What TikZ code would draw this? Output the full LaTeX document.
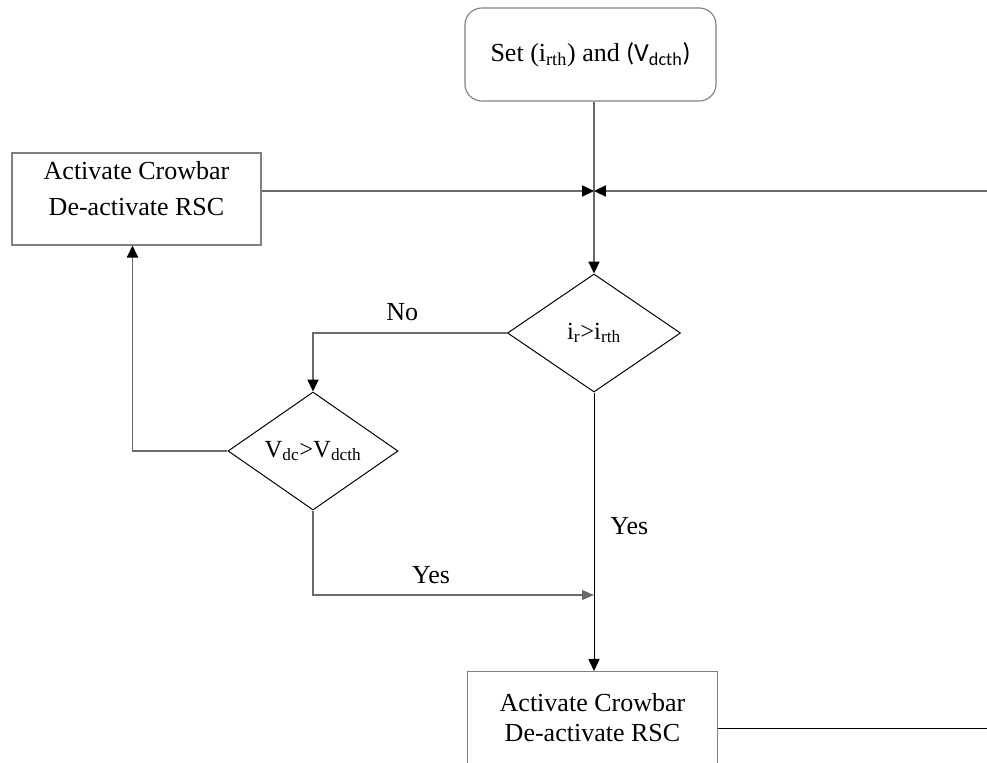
\documentclass[tikz,border=0pt]{standalone}
\usepackage{fontspec}
\setmainfont{Liberation Serif}
\newfontfamily\carlitofont{Carlito}
\usepackage{xcolor}
\usetikzlibrary{shapes.geometric,arrows.meta}
\definecolor{lineGray}{RGB}{105,105,105}
\definecolor{boxGray}{RGB}{128,128,128}

\begin{document}
\begin{tikzpicture}[x=0.025cm, y=-0.025cm, font=\fontsize{18.5}{21.5}\selectfont]
    % Define styles
    \tikzstyle{process} = [rectangle, draw=boxGray, line width=0.8pt, text centered, minimum width=6.25cm, minimum height=2.3cm, align=center]
    \tikzstyle{decision} = [diamond, draw=black, line width=0.7pt, inner sep=0pt, text centered, font=\fontsize{17.5}{21}\selectfont]
    \tikzstyle{arrow} = [draw=lineGray, line width=0.8pt, -{Triangle[length=8.5pt,width=8pt,color=black]}]
    \tikzstyle{grayarrow} = [draw=lineGray, line width=0.8pt, -{Triangle[length=8.5pt,width=7pt]}]
    \tikzstyle{line} = [draw=lineGray, line width=0.8pt]

    \path[use as bounding box, clip] (0,0) rectangle (987,763);

    % Boxes
    \node [process, rounded corners=12pt, minimum width=6.275cm, minimum height=2.325cm] (set) at (590.5,54.5) {Set (i\textsubscript{rth}) and {\carlitofont(V\textsubscript{dcth})}};
    \node [process, minimum width=6.225cm] (act1) at (136.5,199) {Activate Crowbar\\[4pt]De-activate RSC\\[-6pt]};
    \node [process] (act2) at (592.5,717.5) {Activate Crowbar\\De-activate RSC};

    % Decisions
    \node [decision, minimum width=4.325cm, minimum height=2.95cm] (d1) at (594,333) {i\textsubscript{r}>i\textsubscript{rth}};
    \node [decision, minimum width=4.25cm, minimum height=2.95cm] (d2) at (313,451) {V\textsubscript{dc}>V\textsubscript{dcth}};

    % Junction and free ends
    \coordinate (jn) at (594,191);
    \coordinate (rin) at (987,191);
    \coordinate (rout) at (987,728);
    \coordinate (merge) at (594,595);

    % Arrows
    \draw [line] (set.south -| jn) -- (jn);
    \draw [arrow] (jn) -- (d1.north);
    \draw [arrow] (act1.east |- jn) -- (jn);
    \draw [arrow] (rin) -- (jn);
    \draw [arrow] (d1.west) -| node [above, pos=0.27, yshift=5pt] (no) {No} (d2.north);
    \draw [arrow] (d2.west) -| ([xshift=-0.1cm]act1.south);
    \draw [grayarrow] (d2.south) |- node [above, pos=0.71, yshift=4pt] (yes2) {Yes} (merge);
    \draw [arrow, draw=black, line width=0.6pt] (d1.south) -- node [right, pos=0.48, xshift=8pt] (yes1) {Yes} (d1.south |- act2.north);
    \draw [line, draw=black, line width=0.6pt] (act2.east |- rout) -- (rout);
\end{tikzpicture}
\end{document}
